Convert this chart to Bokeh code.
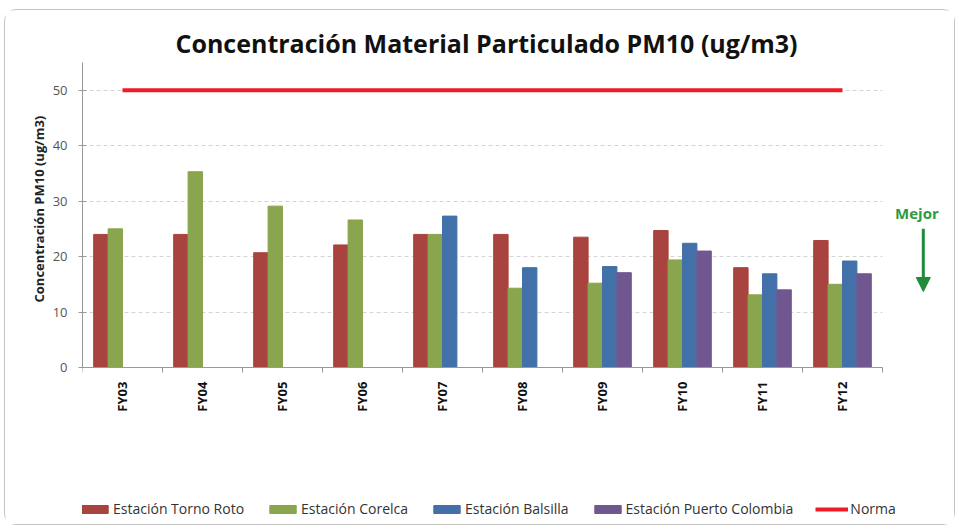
from bokeh.plotting import figure
from bokeh.models import (ColumnDataSource, Legend, LegendItem, Label, Arrow,
                          NormalHead, Range1d, FixedTicker, Title)
from bokeh.transform import dodge
from bokeh.embed import file_html
from bokeh.resources import INLINE
import math

# ---- data ----
years = ["FY03", "FY04", "FY05", "FY06", "FY07", "FY08", "FY09", "FY10", "FY11", "FY12"]
torno_roto = [24.0, 24.0, 20.7, 22.1, 24.0, 24.0, 23.5, 24.7, 18.0, 22.9]
corelca = [25.0, 35.3, 29.1, 26.6, 24.0, 14.3, 15.2, 19.4, 13.1, 15.0]
balsilla = [None, None, None, None, 27.3, 18.0, 18.2, 22.4, 16.9, 19.2]
puerto_colombia = [None, None, None, None, None, None, 17.1, 21.0, 14.0, 16.9]
norma = [50, 50, 50, 50, 50, 50, 50, 50, 50, 50]
y_ticks = [0, 10, 20, 30, 40, 50]

series = [
    ("Estación Torno Roto", torno_roto, "#A9433F"),
    ("Estación Corelca", corelca, "#89A54E"),
    ("Estación Balsilla", balsilla, "#4171A8"),
    ("Estación Puerto Colombia", puerto_colombia, "#71578F"),
]

n = len(years)
centers = [i + 0.5 for i in range(n)]          # category centres on the x scale
bounds = [float(i) for i in range(n + 1)]       # category boundaries

# frame covers the whole lower area; the x axis sits at y = 0 inside it
p = figure(x_range=Range1d(0, 10.9), y_range=Range1d(-28.31, 55),
           frame_width=872, frame_height=462,
           output_backend="svg", toolbar_location=None,
           min_border_left=77, min_border_right=0, min_border_top=52,
           min_border_bottom=0,
           styles={"margin": "9px 0 0 4px", "border": "1px solid #c4c4c4",
                   "border-radius": "12px"})

p.title.text = "Concentración Material Particulado PM10 (ug/m3)"
p.title.align = "left"
p.title.offset = 93
p.title.text_font = "Open Sans"
p.title.text_font_size = "25px"
p.title.text_font_style = "bold"
p.title.text_color = "#111111"
p.title.standoff = 6

p.outline_line_color = None
p.xgrid.visible = False
p.ygrid.grid_line_color = "#d4d4d4"
p.ygrid.grid_line_dash = "4 3"
p.ygrid.grid_line_width = 1
p.ygrid.cross_bounds = (0, n)

p.yaxis.ticker = FixedTicker(ticks=y_ticks)
p.yaxis.bounds = (0, 55)
p.yaxis.major_label_text_font = "Open Sans"
p.yaxis.major_label_text_font_size = "13px"
p.yaxis.major_label_text_color = "#555555"
p.yaxis.major_label_standoff = 11
p.yaxis.axis_line_color = "#999999"
p.yaxis.major_tick_line_color = "#999999"
p.yaxis.major_tick_in = 4
p.yaxis.major_tick_out = 4
p.yaxis.minor_tick_line_color = None

ylabel = Title(text="Concentración PM10 (ug/m3)", align="left", offset=222,
               text_font="Open Sans", text_font_size="13px",
               text_font_style="bold", text_color="#222222", standoff=4)
p.add_layout(ylabel, "left")

p.xaxis.fixed_location = 0
p.xaxis.ticker = FixedTicker(ticks=centers, minor_ticks=bounds)
p.xaxis.major_label_overrides = {c: y for c, y in zip(centers, years)}
p.xaxis.bounds = (0, n)
p.xaxis.major_label_orientation = math.pi / 2
p.xaxis.major_label_text_font = "Open Sans"
p.xaxis.major_label_text_font_size = "13px"
p.xaxis.major_label_text_font_style = "bold"
p.xaxis.major_label_text_color = "#111111"
p.xaxis.major_label_standoff = 8
p.xaxis.axis_line_color = "#999999"
p.xaxis.major_tick_line_color = None
p.xaxis.minor_tick_line_color = "#999999"
p.xaxis.minor_tick_in = 0
p.xaxis.minor_tick_out = 5

offsets = [-0.27, -0.09, 0.09, 0.27]
bar_w = 0.18
items = []
for (name, vals, color), off in zip(series, offsets):
    xs = [c for c, v in zip(centers, vals) if v is not None]
    vs = [v for v in vals if v is not None]
    src = ColumnDataSource(dict(x=xs, top=vs))
    r = p.vbar(x=dodge("x", off), top="top", width=bar_w,
               source=src, fill_color=color, line_color=color)
    items.append(LegendItem(label=name, renderers=[r]))

rl = p.line(x=centers, y=norma, line_color="#EE1C25", line_width=4)
items.append(LegendItem(label="Norma", renderers=[rl]))

legend = Legend(items=items, orientation="horizontal", location=(-4, 6),
                padding=0, margin=0, spacing=22, glyph_width=33, glyph_height=10,
                label_standoff=2, border_line_color=None, background_fill_alpha=0,
                label_text_font="Open Sans", label_text_font_size="14px",
                label_text_color="#333333")
p.add_layout(legend)

# "Mejor" annotation with arrow (right of the bars)
p.add_layout(Label(x=10.43, y=27.8, text="Mejor", text_font="Open Sans",
                   text_font_size="15px", text_font_style="bold",
                   text_color="#2E9A3E", text_align="center",
                   text_baseline="middle"))
p.add_layout(Arrow(x_start=10.51, y_start=25.0, x_end=10.51, y_end=13.7,
                   line_color="#1F8B3B", line_width=3,
                   end=NormalHead(size=14, fill_color="#1F8B3B",
                                  line_color="#1F8B3B")))

open("out.html", "w").write(file_html(p, INLINE))
